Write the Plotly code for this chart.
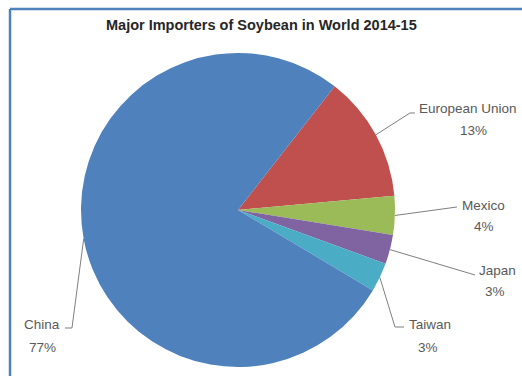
import math
import plotly.graph_objects as go

labels = ["European Union", "Mexico", "Japan", "Taiwan", "China"]
values = [13, 4, 3, 3, 77]
colors = ["#C0504D", "#9BBB59", "#8064A2", "#4BACC6", "#4F81BD"]

W, H = 522, 376
CX, CY, R = 238, 210, 157
ROT = 38

# label layout (pixels): name pos, pct pos, elbow points
label_layout = {
    "European Union": dict(name=(468, 108), pct=(473, 130), elbows=[(410, 113), (415, 113)]),
    "Mexico": dict(name=(483, 205), pct=(484, 226), elbows=[(457, 207)]),
    "Japan": dict(name=(497, 270), pct=(495, 291), elbows=[(475, 275)]),
    "Taiwan": dict(name=(430, 324), pct=(428, 347), elbows=[(395, 327), (404, 327)]),
    "China": dict(name=(42, 324), pct=(42, 347), elbows=[(72, 328), (65, 328)]),
}

def px(x):
    return x / W

def py(y):
    return 1 - y / H

fig = go.Figure(go.Pie(
    labels=labels, values=values, sort=False, direction="clockwise",
    rotation=ROT, textinfo="none", hoverinfo="label+percent",
    marker=dict(colors=colors, line=dict(width=0)),
    domain=dict(x=[px(CX - R), px(CX + R)], y=[py(CY + R), py(CY - R)]),
    showlegend=False,
))

total = sum(values)
ang = ROT
shapes = []
annotations = []
lab_font = dict(family="Liberation Sans, Arial", size=13.5, color="#595959")
for lab, v in zip(labels, values):
    span = 360 * v / total
    mid = math.radians(ang + span / 2)
    ang += span
    ex, ey = CX + R * math.sin(mid), CY - R * math.cos(mid)
    L = label_layout[lab]
    pts = [(ex, ey)] + L["elbows"]
    path = "M " + " L ".join(f"{px(x):.4f},{py(y):.4f}" for x, y in pts)
    shapes.append(dict(type="path", xref="paper", yref="paper", path=path,
                       line=dict(color="#7f7f7f", width=1)))
    annotations.append(dict(x=px(L["name"][0]), y=py(L["name"][1]), xref="paper", yref="paper",
                            text=lab, showarrow=False, xanchor="center", yanchor="middle", font=lab_font))
    annotations.append(dict(x=px(L["pct"][0]), y=py(L["pct"][1]), xref="paper", yref="paper",
                            text=f"{round(100 * v / total)}%", showarrow=False,
                            xanchor="center", yanchor="middle", font=lab_font))

# outer border (top and left visible)
shapes.append(dict(type="line", xref="paper", yref="paper", x0=px(10), x1=1.01, y0=py(9), y1=py(9),
                   line=dict(color="#4F81BD", width=2.5)))
shapes.append(dict(type="line", xref="paper", yref="paper", x0=px(10), x1=px(10), y0=py(9), y1=-0.01,
                   line=dict(color="#4F81BD", width=2.5)))

annotations.append(dict(x=px(261), y=py(25), xref="paper", yref="paper",
                        text="<b>Major Importers of Soybean in World 2014-15</b>", showarrow=False,
                        xanchor="center", yanchor="middle",
                        font=dict(family="Liberation Sans, Arial", size=14.5, color="#262626")))

fig.update_layout(
    width=W, height=H, margin=dict(l=0, r=0, t=0, b=0),
    paper_bgcolor="white", plot_bgcolor="white",
    shapes=shapes, annotations=annotations,
)
fig.write_html("out.html", config={"displayModeBar": False},
               post_script="document.body.style.margin='0';document.body.style.overflow='hidden';")
